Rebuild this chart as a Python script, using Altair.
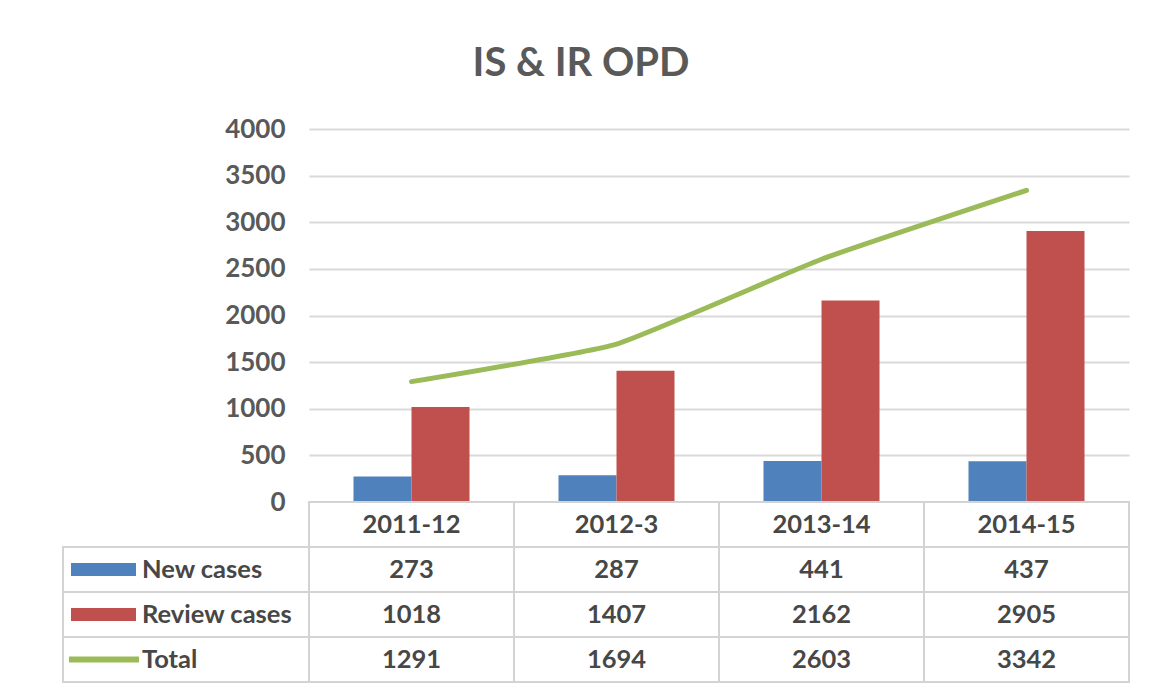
import altair as alt
import pandas as pd

categories = ["2011-12", "2012-3", "2013-14", "2014-15"]
series_names = ["New cases", "Review cases", "Total"]
new_cases = [273, 287, 441, 437]
review_cases = [1018, 1407, 2162, 2905]
total = [1291, 1694, 2603, 3342]
y_ticks = [0, 500, 1000, 1500, 2000, 2500, 3000, 3500, 4000]

BLUE, RED, GREEN = "#4F81BD", "#C0504D", "#9BBB59"
FONT = "Lato"
TXT = "#474747"
TFS = 25.5

rows = []
for s, vals in zip(series_names, [new_cases, review_cases, total]):
    for c, v in zip(categories, vals):
        rows.append({"cat": c, "series": s, "value": v})
df = pd.DataFrame(rows)
bars_df = df[df.series != "Total"]
line_df = df[df.series == "Total"]

color_scale = alt.Scale(domain=series_names, range=[BLUE, RED, GREEN])
x_scale = alt.Scale(domain=categories, paddingInner=0, paddingOuter=0)
W = 820

bars = alt.Chart(bars_df).mark_bar().encode(
    x=alt.X("cat:N", scale=x_scale, axis=None, sort=categories),
    xOffset=alt.XOffset("series:N", scale=alt.Scale(domain=series_names[:2], paddingInner=0, paddingOuter=0.767)),
    y=alt.Y("value:Q", scale=alt.Scale(domain=[0, 4000], nice=False),
            axis=alt.Axis(values=y_ticks, format="d", title=None, domain=False, ticks=False,
                          labelFont=FONT, labelFontSize=26, labelFontWeight="bold",
                          labelColor="#595959", labelPadding=24,
                          gridColor="#d9d9d9", gridWidth=2)),
    color=alt.Color("series:N", scale=color_scale, legend=None),
)
line = alt.Chart(line_df).mark_line(strokeWidth=5, interpolate="cardinal", tension=0.6,
                                    strokeCap="round", color=GREEN).encode(
    x=alt.X("cat:N", scale=x_scale, axis=None, sort=categories),
    y=alt.Y("value:Q"),
)
top = alt.layer(bars, line).properties(width=W, height=373)

# data table
row_domain = ["header"] + series_names
y_tab = alt.Scale(domain=row_domain, paddingInner=0, paddingOuter=0)
cells = pd.DataFrame([{"cat": c, "row": r} for c in categories for r in row_domain])
header_df = pd.DataFrame({"cat": categories, "row": "header", "label": categories})
vals_df = pd.DataFrame({"cat": df.cat, "row": df.series, "label": df.value.astype(str)})
text_df = pd.concat([header_df, vals_df])
leg_df = pd.DataFrame({"row": series_names, "series": series_names})

cell_rects = alt.Chart(cells).mark_rect(fill="white", stroke="#d3d3d3", strokeWidth=2).encode(
    x=alt.X("cat:N", scale=x_scale, axis=None, sort=categories),
    y=alt.Y("row:N", scale=y_tab, axis=None),
)
leg_rects = alt.Chart(leg_df).mark_rect(fill="white", stroke="#d3d3d3", strokeWidth=2).encode(
    x=alt.value(-246), x2=alt.value(0),
    y=alt.Y("row:N", scale=y_tab, axis=None),
)
cell_text = alt.Chart(text_df).mark_text(font=FONT, fontSize=TFS, fontWeight="bold", color=TXT,
                                         baseline="middle").encode(
    x=alt.X("cat:N", scale=x_scale, axis=None, sort=categories),
    y=alt.Y("row:N", scale=y_tab, axis=None),
    text="label:N",
)
swatch_bars = alt.Chart(leg_df[leg_df.series != "Total"]).mark_rule(strokeWidth=13).encode(
    x=alt.value(-238), x2=alt.value(-173),
    y=alt.Y("row:N", scale=y_tab, axis=None, bandPosition=0.5),
    color=alt.Color("series:N", scale=color_scale, legend=None),
)
swatch_line = alt.Chart(leg_df[leg_df.series == "Total"]).mark_rule(strokeWidth=6).encode(
    x=alt.value(-240), x2=alt.value(-170),
    y=alt.Y("row:N", scale=y_tab, axis=None, bandPosition=0.5),
    color=alt.Color("series:N", scale=color_scale, legend=None),
)
row_labels = alt.Chart(leg_df).mark_text(font=FONT, fontSize=TFS, fontWeight="bold", color=TXT,
                                         align="left", baseline="middle").encode(
    x=alt.value(-167),
    y=alt.Y("row:N", scale=y_tab, axis=None, bandPosition=0.5),
    text="row:N",
)
table = alt.layer(cell_rects, leg_rects, cell_text, swatch_bars, swatch_line, row_labels).properties(width=W, height=180)

chart = alt.vconcat(top, table, spacing=0, bounds="flush").properties(
    title=alt.TitleParams("IS & IR OPD", font=FONT, fontSize=40, fontWeight="bold", color="#595959",
                          anchor="middle", frame="bounds", dx=-15, offset=32),
    padding={"left": 54, "top": 36, "right": 20, "bottom": 10},
    background="white",
).configure_view(strokeWidth=0)

chart.save("out.html", embed_options={"renderer": "svg", "actions": False})
